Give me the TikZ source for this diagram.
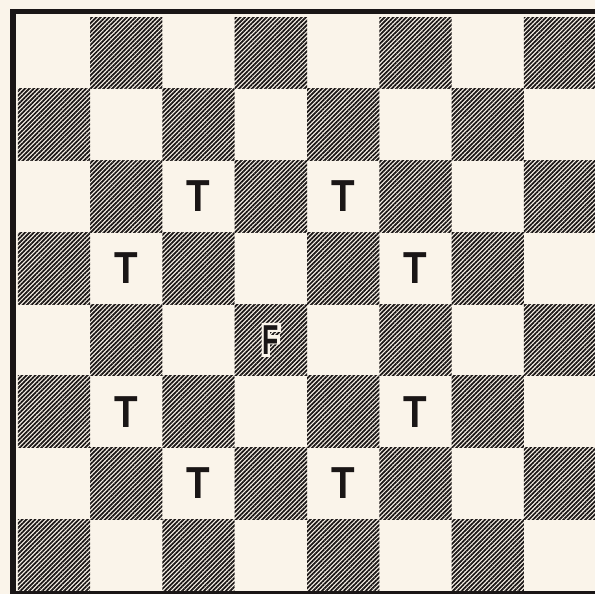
\documentclass[tikz,border=0pt]{standalone}
\usepackage{fontspec}
\setsansfont{Liberation Sans}
\usepackage{tikz}
\usetikzlibrary{patterns.meta}
\usepackage{xcolor}
\definecolor{paper}{RGB}{250,244,234}
\definecolor{ink}{RGB}{26,22,22}

\tikzset{
  darksq/.style={pattern={Lines[angle=45, distance=3.1pt, line width=1.75pt]}, pattern color=ink},
  piece/.style={font=\sffamily\bfseries\fontsize{45}{45}\selectfont, text=ink, xscale=0.86, inner sep=0pt},
  fpiece/.style={piece, font=\sffamily\bfseries\fontsize{42}{42}\selectfont, xscale=0.74}
}

\begin{document}
\begin{tikzpicture}[x=72.25bp, y=-71.75bp]
  \useasboundingbox[fill=paper] (-0.2491,-0.2369) rectangle (7.9862,8.0418);
  \clip (-0.2491,-0.2369) rectangle (7.9862,8.0418);
  % Frame
  \draw[ink, line width=5.5bp] (-0.0692,-0.0767) rectangle (8.2,8.04);
  % Dark squares
  \foreach \r in {0,...,7}
    \foreach \c in {0,...,7} {
      \pgfmathtruncatemacro\s{\r+\c}
      \ifodd\s \fill[darksq] (\c,\r) rectangle ++(1,1); \fi
    }
  % Towers
  \foreach \c/\r [count=\i] in {2/2, 4/2, 1/3, 5/3, 1/5, 5/5, 2/6, 4/6}
    \node[piece] (t\i) at (\c+0.5,\r+0.5) {T};
  % Piece on the dark square, with a white rim
  \coordinate (fc) at (3.5,4.5);
  \begin{scope}[shift={(fc)}, x=1bp, y=1bp]
    \fill[paper] (-9.2,-17) -- (-0.9,-17) -- (-0.9,-4.5) -- (8.9,-4.5) -- (8.9,4.7)
      -- (-0.9,4.7) -- (-0.9,7.9) -- (10.3,7.9) -- (10.3,17) -- (-9.2,17) -- cycle;
  \end{scope}
  \node[fpiece] (f) at (fc) {F};
\end{tikzpicture}
\end{document}
